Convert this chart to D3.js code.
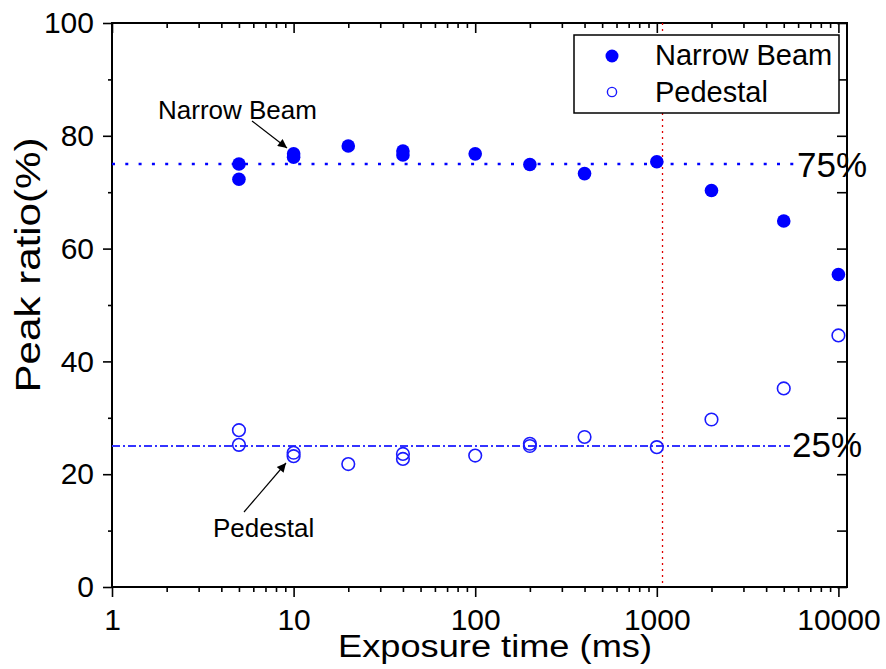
<!DOCTYPE html>
<html>
<head>
<meta charset="utf-8">
<script src="https://cdn.jsdelivr.net/npm/d3@7"></script>
<style>
body { margin: 0; background: #fff; }
svg text { font-family: Arial, "Liberation Sans", sans-serif; fill: #000; }
</style>
</head>
<body>
<div id="chart"></div>
<script>
// exposure time (ms) and peak ratio (%)
var narrowTime  = [5, 5, 10, 10, 20, 40, 40, 100, 200, 400, 1000, 2000, 5000, 10000];
var narrowValue = [75.0, 72.3, 76.8, 76.2, 78.2, 77.3, 76.6, 76.8, 74.9, 73.3, 75.4, 70.3, 64.9, 55.4];

var pedestalTime  = [5, 5, 10, 10, 20, 40, 40, 100, 200, 200, 400, 1000, 2000, 5000, 10000];
var pedestalValue = [27.8, 25.2, 23.8, 23.2, 21.8, 23.6, 22.7, 23.3, 25.4, 25.0, 26.6, 24.8, 29.7, 35.2, 44.6];

var xTickLabels = [1, 10, 100, 1000, 10000];
var yTickLabels = [0, 20, 40, 60, 80, 100];
var yMinorTicks = [10, 30, 50, 70, 90];

var refLevels = [75, 25];
var cutoffTime = 1075;

(function() {

    var width = 886,
        height = 669;

    var svg = d3.select("#chart")
        .append("svg")
        .attr("width", width)
        .attr("height", height);

    var x = d3.scaleLog().domain([1, 11150]).range([112, 847]);
    var y = d3.scaleLinear().domain([0, 100]).range([587, 23]);

    // minor log ticks 2..9 per decade
    var xMinorTicks = [];
    xTickLabels.forEach(function(d) {
        for (var k = 2; k <= 9; k++) {
            if (d * k <= x.domain()[1]) xMinorTicks.push(d * k);
        }
    });

    var defs = svg.append("defs");
    defs.append("marker")
        .attr("id", "arrow")
        .attr("viewBox", "0 0 10 10")
        .attr("refX", 10)
        .attr("refY", 5)
        .attr("markerWidth", 15)
        .attr("markerHeight", 9)
        .attr("markerUnits", "userSpaceOnUse")
        .attr("orient", "auto")
        .append("path")
        .attr("d", "M0,0L10,5L0,10Z")
        .attr("fill", "#000");

    function styleAxis(g) {
        g.select(".domain").remove();
        g.selectAll("line").attr("stroke", "#000").attr("stroke-width", 1.6);
        g.selectAll("text").attr("font-size", 30).attr("fill", "#000")
            .attr("font-family", "Arial, 'Liberation Sans', sans-serif");
    }

    // bottom
    svg.append("g")
        .attr("transform", "translate(0," + y(0) + ")")
        .call(d3.axisBottom(x).tickValues(xTickLabels).tickSize(10).tickPadding(12)
            .tickFormat(d3.format("d")))
        .call(styleAxis);
    svg.append("g")
        .attr("transform", "translate(0," + y(0) + ")")
        .call(d3.axisBottom(x).tickValues(xMinorTicks).tickSize(5).tickFormat(""))
        .call(styleAxis);

    // top (inward)
    svg.append("g")
        .attr("transform", "translate(0," + y(100) + ")")
        .call(d3.axisTop(x).tickValues(xTickLabels).tickSize(-10).tickFormat(""))
        .call(styleAxis);
    svg.append("g")
        .attr("transform", "translate(0," + y(100) + ")")
        .call(d3.axisTop(x).tickValues(xMinorTicks).tickSize(-5).tickFormat(""))
        .call(styleAxis);

    // left
    svg.append("g")
        .attr("transform", "translate(" + x(1) + ",0)")
        .call(d3.axisLeft(y).tickValues(yTickLabels).tickSize(9).tickPadding(9))
        .call(styleAxis);
    svg.append("g")
        .attr("transform", "translate(" + x(1) + ",0)")
        .call(d3.axisLeft(y).tickValues(yMinorTicks).tickSize(4).tickFormat(""))
        .call(styleAxis);

    // right (inward)
    svg.append("g")
        .attr("transform", "translate(" + x.range()[1] + ",0)")
        .call(d3.axisRight(y).tickValues(yTickLabels.concat(yMinorTicks)).tickSize(-10).tickFormat(""))
        .call(styleAxis);

    // frame
    svg.append("rect")
        .attr("x", x.range()[0])
        .attr("y", y(100))
        .attr("width", x.range()[1] - x.range()[0])
        .attr("height", y(0) - y(100))
        .attr("fill", "none")
        .attr("stroke", "#000")
        .attr("stroke-width", 2);

    // axis titles
    svg.append("text")
        .attr("x", 495)
        .attr("y", 657)
        .attr("text-anchor", "middle")
        .attr("font-size", 31)
        .attr("textLength", 314)
        .attr("lengthAdjust", "spacingAndGlyphs")
        .text("Exposure time (ms)");

    svg.append("text")
        .attr("transform", "translate(40,265) rotate(-90)")
        .attr("text-anchor", "middle")
        .attr("font-size", 35)
        .attr("textLength", 255)
        .attr("lengthAdjust", "spacingAndGlyphs")
        .text("Peak ratio(%)");

    // red cutoff line
    svg.append("line")
        .attr("x1", x(cutoffTime)).attr("x2", x(cutoffTime))
        .attr("y1", y(100)).attr("y2", y(0))
        .attr("stroke", "#e00000")
        .attr("stroke-width", 1.3)
        .attr("stroke-dasharray", "2,4");

    // reference lines 75% and 25%
    var refStyle = [
        { dash: "3,10.3", width: 2.6, color: "#0000ff", labelX: 797, dy: 13 },
        { dash: "8,3,2,3", width: 2.2, color: "#3434ff", labelX: 792, dy: 11 }
    ];
    refLevels.forEach(function(v, i) {
        var s = refStyle[i];
        svg.append("line")
            .attr("x1", x.range()[0]).attr("x2", s.labelX - 2)
            .attr("y1", y(v)).attr("y2", y(v))
            .attr("stroke", s.color)
            .attr("stroke-width", s.width)
            .attr("stroke-dasharray", s.dash);
        svg.append("text")
            .attr("x", s.labelX)
            .attr("y", y(v) + s.dy)
            .attr("font-size", 35)
            .text(v + "%");
    });

    // pedestal (open)
    svg.selectAll(".pedestal")
        .data(pedestalTime)
        .enter().append("circle")
        .attr("class", "pedestal")
        .attr("cx", function(d) { return x(d); })
        .attr("cy", function(d, i) { return y(pedestalValue[i]); })
        .attr("r", 6.3)
        .attr("fill", "none")
        .attr("stroke", "#1a1aff")
        .attr("stroke-width", 1.6);

    // narrow beam (filled)
    svg.selectAll(".narrow")
        .data(narrowTime)
        .enter().append("circle")
        .attr("class", "narrow")
        .attr("cx", function(d) { return x(d); })
        .attr("cy", function(d, i) { return y(narrowValue[i]); })
        .attr("r", 6.8)
        .attr("fill", "#0000ff");

    // annotations
    svg.append("text")
        .attr("x", 158).attr("y", 119)
        .attr("font-size", 26)
        .text("Narrow Beam");
    svg.append("line")
        .attr("x1", 252).attr("y1", 121)
        .attr("x2", 287).attr("y2", 148)
        .attr("stroke", "#000").attr("stroke-width", 1.2)
        .attr("marker-end", "url(#arrow)");

    svg.append("text")
        .attr("x", 213).attr("y", 537)
        .attr("font-size", 26)
        .text("Pedestal");
    svg.append("line")
        .attr("x1", 244).attr("y1", 512)
        .attr("x2", 286).attr("y2", 463)
        .attr("stroke", "#000").attr("stroke-width", 1.2)
        .attr("marker-end", "url(#arrow)");

    // legend
    var legend = svg.append("g").attr("transform", "translate(574,35)");
    legend.append("rect")
        .attr("width", 265).attr("height", 78)
        .attr("fill", "#fff")
        .attr("stroke", "#000")
        .attr("stroke-width", 1.5);
    legend.append("circle")
        .attr("cx", 38).attr("cy", 21).attr("r", 6.5)
        .attr("fill", "#0000ff");
    legend.append("circle")
        .attr("cx", 38).attr("cy", 57).attr("r", 4.6)
        .attr("fill", "none").attr("stroke", "#1a1aff").attr("stroke-width", 1.4);
    legend.append("text")
        .attr("x", 81).attr("y", 30)
        .attr("font-size", 29)
        .text("Narrow Beam");
    legend.append("text")
        .attr("x", 81).attr("y", 67)
        .attr("font-size", 29)
        .text("Pedestal");

})();
</script>
</body>
</html>
